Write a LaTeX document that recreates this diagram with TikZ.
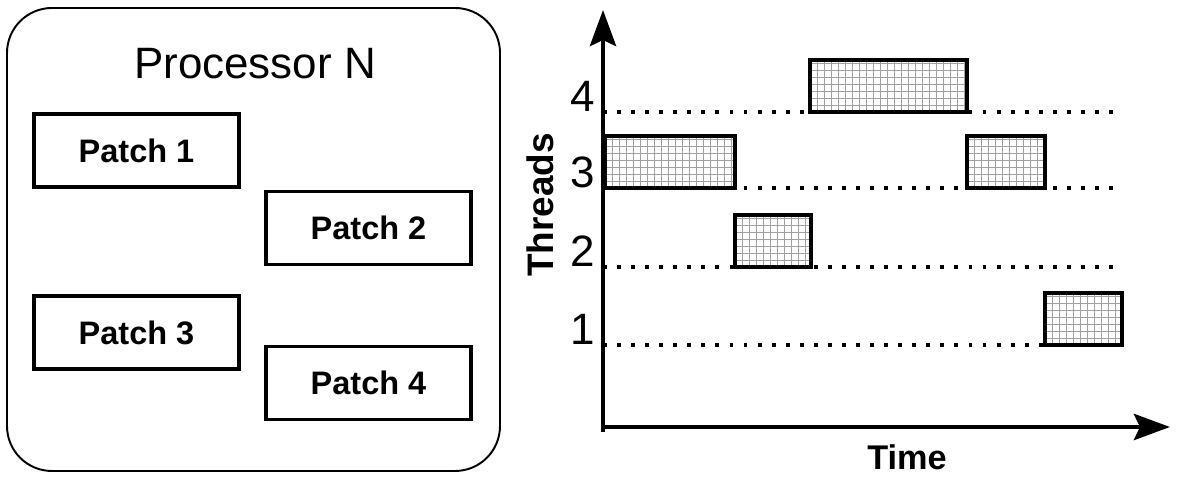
\documentclass[tikz,border=0pt]{standalone}
\usepackage{fontspec}
\setmainfont{Liberation Sans}
\usetikzlibrary{arrows.meta}
\tikzset{>={Stealth[length=0.72cm, width=0.52cm, inset=0.12cm]}}
\definecolor{mygray1}{RGB}{160, 160, 160}
\tikzset{
  patchbox/.style = {draw, line width=2.2pt, minimum width=4.1cm, minimum height=1.46cm,
                     font=\fontsize{18.5}{18.5}\selectfont\bfseries},
  busy/.style     = {draw, line width=2.2pt},
  idle/.style     = {line width=2.2pt, dash pattern=on 2.2pt off 5.8pt},
  axis/.style     = {line width=2.8pt, ->},
  big/.style      = {font=\fontsize{25}{25}\selectfont},
}

\begin{document}
\begin{tikzpicture}
\useasboundingbox (0,0) rectangle (23.58,9.62);
% processor with its patches
\draw[line width=1.1pt, rounded corners=0.9cm] (0.14,0.2) rectangle (10.0,9.46);
\node[big, anchor=base, inner sep=0pt] (proc) at (5.1,8.04) {Processor N};
\node[patchbox] (p1) at (2.73,6.61) {Patch 1};
\node[patchbox] (p2) at (7.37,5.06) {Patch 2};
\node[patchbox] (p3) at (2.73,2.97) {Patch 3};
\node[patchbox] (p4) at (7.37,1.96) {Patch 4};

% threads over time
\coordinate (O) at (12.06,1.08);
\coordinate (ytip) at (12.06,9.42);
\coordinate (xtip) at (23.4,1.08);
\draw[axis] ([yshift=-0.1cm]O) -- (ytip);
\draw[axis] (O) -- (xtip);
\node[font=\fontsize{21}{21}\selectfont\bfseries, rotate=90] (threads) at (10.8,5.52) {Threads};
\node[font=\fontsize{19.5}{19.5}\selectfont\bfseries, anchor=base, inner sep=0pt] (time) at (18.14,0.22) {Time};

\foreach \n/\y in {4/7.38, 3/5.86, 2/4.28, 1/2.72}{
  \coordinate (t\n) at (12.06,\y);
  \coordinate (e\n) at (22.3,\y);
  \draw[idle] (t\n) -- (e\n);
  \node[big, anchor=base east, inner sep=0pt] (l\n) at (11.9,\y) {\n};
}

\foreach \x/\y/\w in {16.2/7.38/3.14, 12.1/5.86/2.6, 19.34/5.86/1.56, 14.7/4.28/1.52, 20.9/2.72/1.54}{
  \begin{scope}[shift={(\x,\y)}]
    \fill[white] (0,0) rectangle (\w,1.04);
    \draw[mygray1, line width=0.5pt, step=0.14] (0,0) grid (\w,1.04);
    \draw[busy] (0,0) rectangle (\w,1.04);
  \end{scope}
}
\end{tikzpicture}
\end{document}
